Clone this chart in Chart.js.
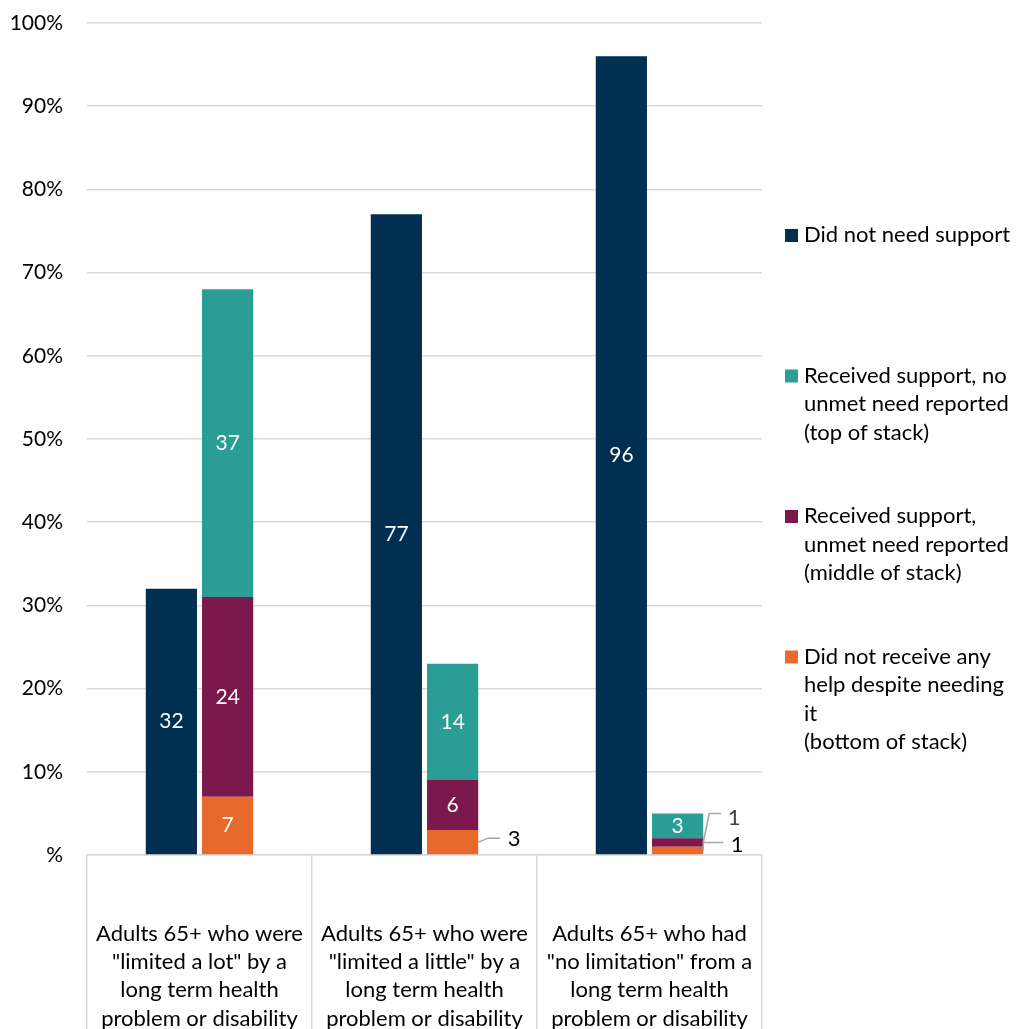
<!DOCTYPE html>
<html>
<head>
<meta charset="utf-8">
<script src="https://cdn.jsdelivr.net/npm/chart.js@4.4.1/dist/chart.umd.min.js"></script>
<style>
  html, body { margin: 0; padding: 0; background: #fff; }
  #wrap { width: 1019px; height: 1029px; position: relative; }
</style>
</head>
<body>
<div id="wrap"><canvas id="chart"></canvas></div>
<script>
// categories (multi-line labels)
const categories = [
  ['Adults 65+ who were', '"limited a lot" by a', 'long term health', 'problem or disability'],
  ['Adults 65+ who were', '"limited a little" by a', 'long term health', 'problem or disability'],
  ['Adults 65+ who had', '"no limitation" from a', 'long term health', 'problem or disability']
];

// series values (%)
const didNotNeed = [32, 77, 96];
const noUnmetNeed = [37, 14, 3];
const unmetNeed = [24, 6, 1];
const noHelp = [7, 3, 1];

const yTickValues = [0, 10, 20, 30, 40, 50, 60, 70, 80, 90, 100];

const legendLines = [
  ['Did not need support'],
  ['Received support, no', 'unmet need reported', '(top of stack)'],
  ['Received support,', 'unmet need reported', '(middle of stack)'],
  ['Did not receive any', 'help despite needing', 'it', '(bottom of stack)']
];

const FONT = 'Lato, "Open Sans", sans-serif';
const COLORS = {
  navy: '#002F52',
  teal: '#2A9D94',
  plum: '#7B184C',
  orange: '#E8692C'
};

// labels drawn beside small segments: key = dataset key, index
// [elbowDx, elbowDy, lineEndDx, labelDx, labelDy, color]
const outsideLabels = {
  'noHelp:1': [10, -4, 22, 36, -3, '#000'],
  'unmetNeed:2': [6, -29, 18, 31, -25, '#404040'],
  'noHelp:2': [0, -8, 20, 34, -6, '#000']
};

// draws value labels and leader lines
const valueLabels = {
  id: 'valueLabels',
  afterDatasetsDraw(chart) {
    const ctx = chart.ctx;
    ctx.save();
    ctx.textAlign = 'center';
    ctx.textBaseline = 'middle';
    chart.data.datasets.forEach((ds, di) => {
      const meta = chart.getDatasetMeta(di);
      meta.data.forEach((el, i) => {
        const v = ds.data[i];
        const key = ds.key + ':' + i;
        const mid = (el.y + el.base) / 2;
        const right = el.x + el.width / 2;
        const o = outsideLabels[key];
        if (o) {
          ctx.strokeStyle = '#A6A6A6';
          ctx.lineWidth = 1.5;
          ctx.beginPath();
          ctx.moveTo(right, mid);
          ctx.lineTo(right + o[0], mid + o[1]);
          ctx.lineTo(right + o[2], mid + o[1]);
          ctx.stroke();
          ctx.font = '22px ' + FONT;
          ctx.fillStyle = o[5];
          ctx.fillText(String(v), right + o[3], mid + o[4]);
        } else {
          ctx.font = '21px ' + FONT;
          ctx.fillStyle = '#fff';
          ctx.fillText(String(v), el.x, mid);
        }
      });
    });
    ctx.restore();
  }
};

// legend at the right, Excel style wrapped entries
const sideLegend = {
  id: 'sideLegend',
  afterDraw(chart) {
    const ctx = chart.ctx;
    const x = chart.chartArea.right + 23;
    const order = ['didNotNeed', 'noUnmetNeed', 'unmetNeed', 'noHelp'];
    ctx.save();
    ctx.font = '22px ' + FONT;
    ctx.textAlign = 'left';
    ctx.textBaseline = 'middle';
    order.forEach((k, n) => {
      const ds = chart.data.datasets.find(d => d.key === k);
      const y0 = chart.chartArea.top + 212 + n * 140.5;
      ctx.fillStyle = ds.backgroundColor;
      ctx.fillRect(x, y0 - 6, 13, 13);
      ctx.fillStyle = '#000';
      legendLines[n].forEach((line, j) => {
        ctx.fillText(line, x + 19, y0 + j * 28.5);
      });
    });
    ctx.restore();
  }
};

new Chart(document.getElementById('chart'), {
  type: 'bar',
  data: {
    labels: categories,
    datasets: [
      { key: 'didNotNeed', label: 'Did not need support', data: didNotNeed, backgroundColor: COLORS.navy, stack: 'a' },
      { key: 'noHelp', label: 'Did not receive any help despite needing it (bottom of stack)', data: noHelp, backgroundColor: COLORS.orange, stack: 'b' },
      { key: 'unmetNeed', label: 'Received support, unmet need reported (middle of stack)', data: unmetNeed, backgroundColor: COLORS.plum, stack: 'b' },
      { key: 'noUnmetNeed', label: 'Received support, no unmet need reported (top of stack)', data: noUnmetNeed, backgroundColor: COLORS.teal, stack: 'b' }
    ]
  },
  options: {
    responsive: true,
    maintainAspectRatio: false,
    animation: false,
    categoryPercentage: 0.5,
    barPercentage: 0.91,
    layout: { padding: { top: 23, right: 257, bottom: 0, left: 0 } },
    scales: {
      x: {
        stacked: true,
        grid: { offset: true, drawOnChartArea: false, drawTicks: true, tickLength: 174, color: '#D9D9D9', lineWidth: 1.5 },
        border: { display: true, color: '#D9D9D9', width: 1.5 },
        ticks: { color: '#000', font: { family: FONT, size: 22, lineHeight: 1.28 }, padding: -109, maxRotation: 0, autoSkip: false },
        afterFit(scale) { scale.height = 174; scale.paddingLeft = 0; scale.paddingRight = 0; }
      },
      y: {
        stacked: true,
        min: 0,
        max: 100,
        afterBuildTicks(scale) { scale.ticks = yTickValues.map(v => ({ value: v })); },
        grid: { drawTicks: false, color: '#D9D9D9', lineWidth: 1.5 },
        border: { display: false },
        ticks: {
          color: '#000',
          padding: 24,
          font: { family: FONT, size: 21 },
          callback: v => v === 0 ? '%' : v + '%'
        },
        afterFit(scale) { scale.width = 87; scale.paddingTop = 0; scale.paddingBottom = 0; }
      }
    },
    plugins: {
      legend: { display: false },
      tooltip: { enabled: false }
    }
  },
  plugins: [valueLabels, sideLegend]
});
</script>
</body>
</html>
